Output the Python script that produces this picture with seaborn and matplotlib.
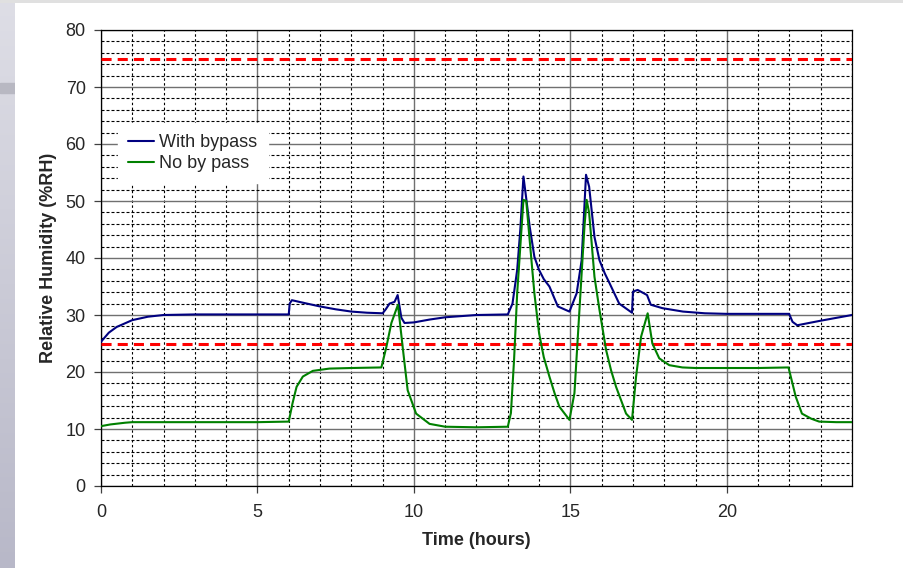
import matplotlib
matplotlib.use("Agg")
import matplotlib.pyplot as plt
import numpy as np
import pandas as pd
import seaborn as sns

# Data (hours, %RH)
t_bypass = [0, 0.25, 0.5, 1, 1.5, 2, 3, 4, 5, 6, 6.03, 6.1, 6.5, 7, 7.5, 8, 8.5, 9,
            9.1, 9.22, 9.38, 9.48, 9.6, 9.7, 10, 10.5, 11, 12, 13, 13.15, 13.3, 13.4,
            13.5, 13.6, 13.7, 13.85, 14.0, 14.15, 14.33, 14.6, 14.97, 15.2, 15.36, 15.5,
            15.6, 15.77, 15.93, 16.1, 16.25, 16.56, 16.97, 17.0, 17.15, 17.45, 17.57,
            17.94, 18.6, 19.3, 20, 21, 21.99, 22.1, 22.25, 23, 24]
rh_bypass = [25.3, 26.9, 27.9, 29.1, 29.7, 30.0, 30.1, 30.1, 30.1, 30.1, 32.0, 32.6,
             32.1, 31.5, 31.0, 30.6, 30.4, 30.3, 31.0, 32.0, 32.3, 33.5, 29.5, 28.6,
             28.7, 29.2, 29.6, 30.0, 30.1, 32.0, 37.9, 45.0, 54.3, 50.0, 45.5, 40.2,
             37.9, 36.3, 35.0, 31.5, 30.6, 33.8, 39.6, 54.6, 52.5, 43.7, 39.6, 37.3,
             35.6, 32.0, 30.4, 34.1, 34.4, 33.5, 31.8, 31.2, 30.6, 30.3, 30.2, 30.2,
             30.2, 28.8, 28.2, 29.0, 30.0]

t_nobypass = [0, 0.3, 0.77, 1, 2, 3, 4, 5, 6, 6.12, 6.25, 6.45, 6.77, 7.3, 8, 8.96,
              9.12, 9.28, 9.49, 9.64, 9.8, 10.07, 10.5, 11, 12, 13, 13.1, 13.2, 13.3,
              13.5, 13.59, 13.69, 13.85, 14.0, 14.15, 14.33, 14.5, 14.65, 14.97, 15.13,
              15.29, 15.45, 15.52, 15.6, 15.77, 15.93, 16.14, 16.3, 16.46, 16.78, 16.97,
              17.1, 17.26, 17.47, 17.62, 17.84, 18.16, 18.58, 19, 20, 21, 21.97, 22.07,
              22.2, 22.4, 22.7, 22.95, 23.5, 24]
rh_nobypass = [10.5, 10.8, 11.1, 11.2, 11.2, 11.2, 11.2, 11.2, 11.3, 14.5, 17.4,
               19.2, 20.2, 20.6, 20.7, 20.8, 24.4, 28.6, 31.8, 24.4, 16.8, 12.7, 10.9,
               10.4, 10.3, 10.4, 12.8, 22.1, 33.8, 50.2, 50.0, 43.7, 33.8, 26.8, 22.6,
               19.2, 16.2, 13.9, 11.6, 16.3, 30.9, 45.5, 50.2, 47.9, 36.7, 30.9, 23.9,
               20.3, 17.4, 12.7, 11.6, 19.2, 26.2, 30.3, 25.0, 22.4, 21.2, 20.8, 20.7,
               20.7, 20.7, 20.8, 18.6, 15.7, 12.7, 11.8, 11.3, 11.2, 11.2]

limits = [25, 75]

df_a = pd.DataFrame({"time": t_bypass, "rh": rh_bypass})
df_b = pd.DataFrame({"time": t_nobypass, "rh": rh_nobypass})

sns.set_style("white")
plt.rcParams["font.family"] = ["Liberation Sans", "DejaVu Sans"]

fig = plt.figure(figsize=(9.04, 5.68), dpi=100)
fig.patch.set_facecolor("white")

# slide background strips
bg = fig.add_axes([0, 0, 15 / 904, 1])
grad = np.linspace(0, 1, 256).reshape(-1, 1)
bg.imshow(grad, aspect="auto", cmap=matplotlib.colors.LinearSegmentedColormap.from_list(
    "bg", ["#dedee6", "#b8b8c8"]), extent=[0, 1, 0, 1])
bg.axhspan(1 - 93 / 568, 1 - 83 / 568, color="#b8b8c2")
bg.axis("off")
top = fig.add_axes([0, 1 - 3 / 568, 1, 3 / 568])
top.axis("off")
top.add_patch(plt.Rectangle((0, 0), 1, 1, color="#e0e0e0", transform=top.transAxes))

ax = fig.add_axes([101 / 904, 1 - 486 / 568, 751 / 904, 456 / 568])

sns.lineplot(data=df_a, x="time", y="rh", ax=ax, color="#000080", lw=1.5,
             label="With bypass", zorder=4)
sns.lineplot(data=df_b, x="time", y="rh", ax=ax, color="#008000", lw=1.5,
             label="No by pass", zorder=4)

for lim in limits:
    ax.axhline(lim, color="red", lw=2.2, dashes=(3.3, 2.0), zorder=3)

ax.set_xlim(0, 24)
ax.set_ylim(0, 80)
ax.set_xticks(np.arange(0, 21, 5))
ax.set_yticks(np.arange(0, 81, 10))
ax.set_xticks(np.arange(0, 25, 1), minor=True)
ax.set_yticks(np.arange(0, 81, 2), minor=True)

ax.grid(which="minor", axis="x", color="black", lw=0.8, dashes=(2.2, 2.2))
ax.grid(which="minor", axis="y", color="black", lw=0.8, dashes=(2.7, 1.8))
ax.grid(which="major", color="#707070", lw=1.0, linestyle="-")
ax.set_axisbelow(True)

for s in ax.spines.values():
    s.set_color("black")
    s.set_linewidth(0.9)

ax.tick_params(which="major", direction="out", length=5, width=0.9, color="#404040",
               labelsize=13, left=True, bottom=True)
ax.tick_params(axis="x", pad=8)
ax.tick_params(axis="y", pad=6)
ax.tick_params(which="minor", length=0)

ax.set_xlabel("Time (hours)", fontsize=13, fontweight="bold", labelpad=8)
ax.set_ylabel("Relative Humidity (%RH)", fontsize=13, fontweight="bold", labelpad=6)

leg = ax.legend(loc="upper left", bbox_to_anchor=(0.022, 0.795), fontsize=13,
                frameon=True, fancybox=False, handlelength=1.4, handletextpad=0.3,
                borderpad=0.6, labelspacing=0.2, borderaxespad=0)
leg.get_frame().set_facecolor("white")
leg.get_frame().set_edgecolor("white")
leg.get_frame().set_alpha(1)
leg.set_zorder(5)

fig.savefig("out.png", dpi=100, facecolor=fig.get_facecolor())
